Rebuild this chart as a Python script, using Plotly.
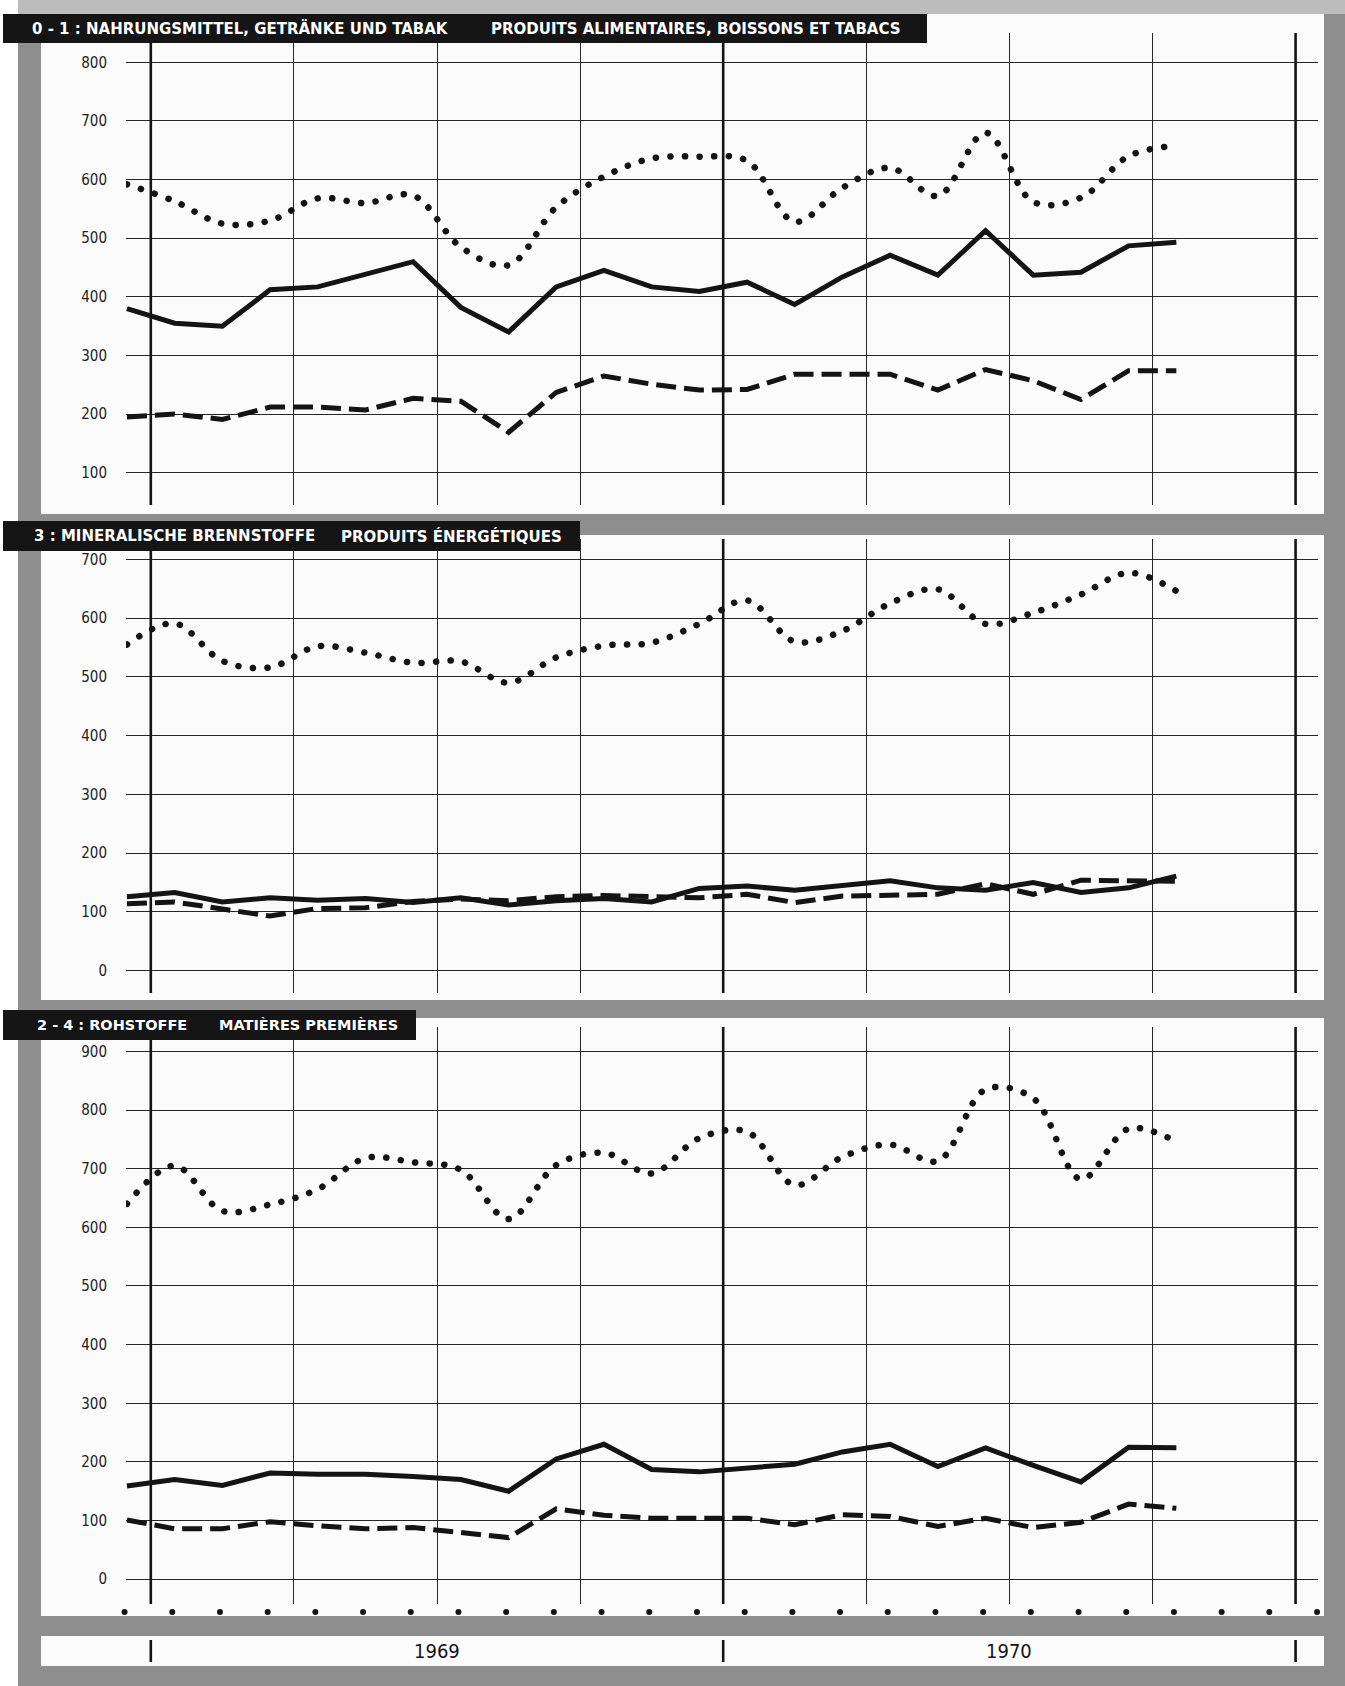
import plotly.graph_objects as go

W, H = 1345, 1686

# ---------------- data ----------------
months = ["1968-12", "1969-01", "1969-02", "1969-03", "1969-04", "1969-05", "1969-06",
          "1969-07", "1969-08", "1969-09", "1969-10", "1969-11", "1969-12",
          "1970-01", "1970-02", "1970-03", "1970-04", "1970-05", "1970-06",
          "1970-07", "1970-08", "1970-09", "1970-10"]

# Panel 1: 0-1 Nahrungsmittel, Getraenke und Tabak
p1_dotted = [592, 563, 525, 530, 568, 560, 573, 485, 454, 553, 605, 636, 639,
             632, 528, 586, 620, 572, 680, 562, 569, 640, 658]
p1_solid = [380, 355, 350, 412, 417, 438, 460, 382, 340, 417, 445, 417, 409,
            425, 387, 434, 471, 437, 513, 437, 442, 487, 493]
p1_dashed = [195, 200, 191, 212, 212, 207, 227, 222, 169, 237, 265, 251, 241,
             242, 268, 268, 268, 241, 276, 257, 225, 274, 274]

# Panel 2: 3 Mineralische Brennstoffe
p2_dotted = [555, 591, 527, 516, 552, 541, 524, 526, 490, 533, 553, 558, 590,
             630, 560, 578, 625, 649, 590, 609, 640, 677, 646]
p2_solid = [126, 133, 117, 124, 120, 123, 116, 124, 112, 119, 123, 117, 140,
            144, 137, 144, 153, 141, 137, 150, 133, 141, 161]
p2_dashed = [114, 117, 105, 93, 106, 107, 118, 122, 119, 126, 128, 127, 124,
             130, 116, 127, 128, 130, 148, 130, 154, 153, 152]

# Panel 3: 2-4 Rohstoffe
p3_dotted = [640, 705, 628, 639, 665, 718, 711, 698, 614, 706, 727, 692, 752,
             763, 672, 720, 741, 713, 835, 820, 682, 768, 746]
p3_solid = [159, 170, 160, 181, 179, 179, 175, 170, 150, 205, 230, 187, 183,
            189, 196, 217, 230, 192, 224, 194, 166, 225, 224]
p3_dashed = [101, 86, 86, 98, 91, 86, 88, 79, 71, 120, 109, 104, 104,
             104, 93, 110, 107, 90, 104, 88, 97, 128, 121]

p1_ticks = [100, 200, 300, 400, 500, 600, 700, 800]
p2_ticks = [0, 100, 200, 300, 400, 500, 600, 700]
p3_ticks = [0, 100, 200, 300, 400, 500, 600, 700, 800, 900]

marker_months = months + ["1970-11", "1970-12", "1971-01"]
years = ["1969", "1970"]

titles = [
    ("0 - 1 : NAHRUNGSMITTEL, GETRÄNKE UND TABAK", "PRODUITS ALIMENTAIRES, BOISSONS ET TABACS"),
    ("3 : MINERALISCHE BRENNSTOFFE", "PRODUITS ÉNERGÉTIQUES"),
    ("2 - 4 : ROHSTOFFE", "MATIÈRES PREMIÈRES"),
]

# ---------------- helpers ----------------
def month_index(label):
    y, m = label.split("-")
    return (int(y) - 1969) * 12 + (int(m) - 1)


def month_mid(label):
    return month_index(label) + 0.5


x_mid = [month_mid(m) for m in months]
marker_x = [month_mid(m) - 0.05 for m in marker_months]
quarter_ticks = list(range(0, 25, 3))
year_bounds = [0, 12, 24]
year_centers = [month_index(y + "-07") for y in years]


def fx(px):
    return px / W


def fy(px):
    return 1 - px / H


fig = go.Figure()

panels = [
    dict(ax="", dotted=p1_dotted, solid=p1_solid, dashed=p1_dashed, ticks=p1_ticks,
         dom=(33, 505), rng=[45, 850]),
    dict(ax="2", dotted=p2_dotted, solid=p2_solid, dashed=p2_dashed, ticks=p2_ticks,
         dom=(539, 993), rng=[-37.9, 734.5]),
    dict(ax="3", dotted=p3_dotted, solid=p3_solid, dashed=p3_dashed, ticks=p3_ticks,
         dom=(1027, 1604), rng=[-42.3, 941.6]),
]

INK = "#141414"
GRID = "#262626"
X_LEFT_PX, X_RIGHT_PX = 126, 1318
xrng = [-0.52, 24.47]
xdom = [fx(X_LEFT_PX), fx(X_RIGHT_PX)]
px_per_month = (X_RIGHT_PX - X_LEFT_PX) / (xrng[1] - xrng[0])
tickfont = dict(family="Liberation Sans Narrow, DejaVu Sans Condensed, Liberation Sans, Arial",
                size=15, color="#222")

layout_axes = {}
for p in panels:
    a = p["ax"]
    xa, ya = "x" + a, "y" + a
    fig.add_trace(go.Scatter(x=x_mid, y=p["dotted"], mode="lines", xaxis=xa, yaxis=ya,
                             line=dict(color=INK, width=6.5, dash="0.1px,14.5px",
                                       shape="spline", smoothing=1.0),
                             hoverinfo="skip", showlegend=False))
    fig.add_trace(go.Scatter(x=x_mid, y=p["solid"], mode="lines", xaxis=xa, yaxis=ya,
                             line=dict(color=INK, width=5),
                             hoverinfo="skip", showlegend=False))
    fig.add_trace(go.Scatter(x=x_mid, y=p["dashed"], mode="lines", xaxis=xa, yaxis=ya,
                             line=dict(color=INK, width=5, dash="20px,8px"),
                             hoverinfo="skip", showlegend=False))
    layout_axes["xaxis" + a] = dict(domain=xdom, range=xrng, anchor=ya,
                                    tickvals=quarter_ticks, showticklabels=False,
                                    showgrid=True, gridcolor=GRID, gridwidth=1,
                                    zeroline=False, showline=False, ticks="",
                                    fixedrange=True)
    layout_axes["yaxis" + a] = dict(domain=[fy(p["dom"][1]), fy(p["dom"][0])],
                                    range=p["rng"], anchor=xa,
                                    tickvals=p["ticks"], ticktext=[str(t) for t in p["ticks"]],
                                    showgrid=True, gridcolor=GRID, gridwidth=1,
                                    zeroline=False, showline=False,
                                    ticks="outside", ticklen=15,
                                    tickcolor="rgba(0,0,0,0)", tickfont=tickfont,
                                    fixedrange=True)

# thin strip axis (same month scale, wider span) for the month markers
strip_left_px, strip_right_px = 78, 1340
strip_rng = [xrng[0] - (X_LEFT_PX - strip_left_px) / px_per_month,
             xrng[1] + (strip_right_px - X_RIGHT_PX) / px_per_month]
layout_axes["xaxis4"] = dict(domain=[fx(strip_left_px), fx(strip_right_px)], range=strip_rng,
                             anchor="y4", visible=False, showgrid=False, zeroline=False,
                             fixedrange=True)
layout_axes["yaxis4"] = dict(domain=[fy(1618), fy(1606)], range=[0, 1], anchor="x4",
                             visible=False, showgrid=False, zeroline=False, fixedrange=True)
fig.add_trace(go.Scatter(x=marker_x, y=[0.5] * len(marker_x),
                         mode="markers", xaxis="x4", yaxis="y4", cliponaxis=False,
                         marker=dict(color=INK, size=6),
                         hoverinfo="skip", showlegend=False))

shapes = []


def rect(x0, y0, x1, y1, color, layer="below"):
    shapes.append(dict(type="rect", xref="paper", yref="paper",
                       x0=fx(x0), x1=fx(x1), y0=fy(y1), y1=fy(y0),
                       fillcolor=color, line=dict(width=0), layer=layer))


# scanned page background
rect(18, 14, 1345, 1686, "#8e8e8e")
rect(18, 0, 1345, 14, "#bcbcbc")
PANEL = "#fbfbfb"
rect(41, 14, 1324, 514, PANEL)
rect(41, 535, 1324, 1000, PANEL)
rect(41, 1018, 1324, 1616, PANEL)
rect(41, 1636, 1324, 1666, PANEL)

# thick year boundary lines in each panel
for p in panels:
    a = p["ax"]
    for b in year_bounds:
        shapes.append(dict(type="line", xref="x" + a, yref="y" + a + " domain",
                           x0=b, x1=b, y0=0, y1=1,
                           line=dict(color=INK, width=2.6), layer="above"))

# year strip tick marks
for b in year_bounds:
    shapes.append(dict(type="line", xref="x3", yref="paper", x0=b, x1=b,
                       y0=fy(1662), y1=fy(1640), line=dict(color=INK, width=2.6),
                       layer="above"))

# title bars
bars = [(3, 14, 927, 43), (3, 521, 580, 551), (3, 1010, 416, 1040)]
for b in bars:
    rect(b[0], b[1], b[2], b[3], "#151515", layer="above")

annotations = []
title_pos = [(30, 489), (32, 339), (35, 217)]
title_sizes = [15, 15, 14.5]
for (ta, tb), (xa0, xb0), b, fs in zip(titles, title_pos, bars, title_sizes):
    yc = fy((b[1] + b[3]) / 2)
    tf = dict(family="DejaVu Sans, Open Sans, sans-serif", size=fs, color="white")
    annotations.append(dict(text="<b>" + ta + "</b>", xref="paper", yref="paper",
                            x=fx(xa0), y=yc, xanchor="left", yanchor="middle",
                            showarrow=False, font=tf))
    annotations.append(dict(text="<b>" + tb + "</b>", xref="paper", yref="paper",
                            x=fx(xb0), y=yc, xanchor="left", yanchor="middle",
                            showarrow=False, font=tf))

for yl, xc in zip(years, year_centers):
    annotations.append(dict(text=yl, xref="x3", yref="paper", x=xc, y=fy(1651),
                            xanchor="center", yanchor="middle", showarrow=False,
                            font=dict(family="Liberation Sans Narrow, DejaVu Sans Condensed, Liberation Sans",
                                      size=20, color=INK)))

fig.update_layout(width=W, height=H, margin=dict(l=0, r=0, t=0, b=0),
                  paper_bgcolor="white", plot_bgcolor="rgba(0,0,0,0)",
                  shapes=shapes, annotations=annotations, showlegend=False,
                  **layout_axes)

post = """
document.body.style.margin='0';
var gd = document.getElementById('{plot_id}');
function roundDots(){
  gd.querySelectorAll('path.js-line').forEach(function(p){
    var d = p.style.strokeDasharray || p.getAttribute('stroke-dasharray') || '';
    if (d.indexOf('0.1') === 0) { p.style.strokeLinecap = 'round'; }
  });
}
roundDots();
if (gd.on) { gd.on('plotly_afterplot', roundDots); }
"""

fig.write_html("out.html", post_script=post, config={"displayModeBar": False})
